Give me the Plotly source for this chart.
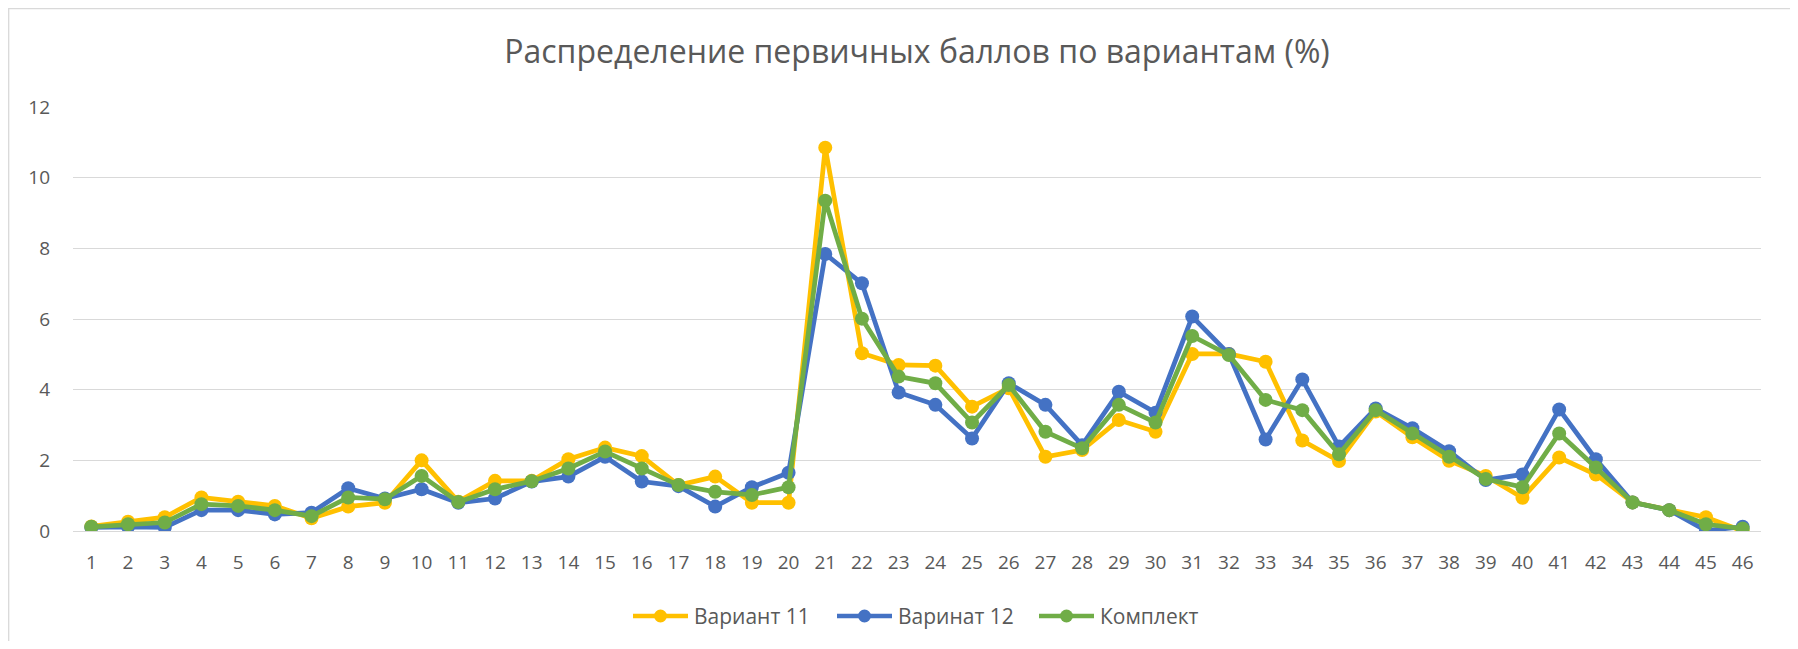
import plotly.graph_objects as go

categories = [str(i) for i in range(1, 47)]

variant_11 = [0.13, 0.26, 0.39, 0.95, 0.83, 0.71, 0.36, 0.69, 0.80, 2.00,
              0.83, 1.42, 1.42, 2.03, 2.36, 2.12, 1.30, 1.54, 0.80, 0.80,
              10.85, 5.03, 4.70, 4.68, 3.52, 4.04, 2.10, 2.29, 3.14, 2.81,
              5.01, 5.01, 4.79, 2.56, 1.98, 3.38, 2.65, 1.99, 1.56, 0.94,
              2.08, 1.60, 0.81, 0.59, 0.39, 0.00]

variant_12 = [0.10, 0.12, 0.10, 0.59, 0.59, 0.47, 0.52, 1.21, 0.92, 1.18,
              0.80, 0.92, 1.40, 1.54, 2.10, 1.40, 1.27, 0.69, 1.24, 1.65,
              7.84, 7.01, 3.92, 3.57, 2.62, 4.18, 3.57, 2.43, 3.94, 3.35,
              6.07, 5.01, 2.59, 4.29, 2.39, 3.47, 2.91, 2.26, 1.44, 1.60,
              3.44, 2.03, 0.81, 0.59, 0.01, 0.12]

komplekt = [0.12, 0.19, 0.24, 0.76, 0.71, 0.59, 0.42, 0.95, 0.90, 1.56,
            0.82, 1.18, 1.41, 1.77, 2.25, 1.77, 1.30, 1.11, 1.02, 1.24,
            9.35, 6.01, 4.37, 4.18, 3.07, 4.13, 2.81, 2.34, 3.57, 3.07,
            5.52, 4.98, 3.71, 3.42, 2.17, 3.42, 2.76, 2.10, 1.47, 1.24,
            2.76, 1.80, 0.81, 0.59, 0.19, 0.07]

series_names = ["Вариант 11", "Варинат 12", "Комплект"]
series_values = [variant_11, variant_12, komplekt]
series_colors = ["#FFC000", "#4472C4", "#70AD47"]

TEXT = "#595959"
GRID = "#D9D9D9"
FONT = "Open Sans"

# figure geometry (page body adds an 8px margin)
W, H = 1782, 633
ML, MR, MT, MB = 65, 29, 99, 110
PW, PH = W - ML - MR, H - MT - MB


def px_x(fx):
    return (fx - ML) / PW


def px_y(fy):
    return (H - MB - fy) / PH


fig = go.Figure()
for name, vals, color in zip(series_names, series_values, series_colors):
    fig.add_trace(go.Scatter(
        x=categories, y=vals, name=name, mode="lines+markers",
        line=dict(color=color, width=4.75),
        marker=dict(color=color, size=14, symbol="circle"),
        showlegend=False,
    ))

fig.update_layout(
    width=W, height=H,
    margin=dict(l=ML, r=MR, t=MT, b=MB),
    paper_bgcolor="white", plot_bgcolor="white",
    font=dict(family=FONT, color=TEXT, size=19),
    title=dict(text="Распределение первичных баллов по вариантам (%)",
               x=0.5, xanchor="center", xref="paper",
               y=1 - 44 / H, yanchor="middle", yref="container",
               font=dict(family=FONT, size=32, color=TEXT)),
    xaxis=dict(type="category", range=[-0.5, 45.5], showgrid=False,
               showline=True, linecolor=GRID, linewidth=1.3,
               ticks="", tickfont=dict(size=19, color=TEXT),
               ticklabelstandoff=14),
    yaxis=dict(range=[0, 12], dtick=2, showgrid=True, gridcolor=GRID,
               gridwidth=1.3, zeroline=True, zerolinecolor=GRID,
               zerolinewidth=1.3, showline=False, ticks="",
               tickfont=dict(size=19, color=TEXT), ticklabelstandoff=22),
    showlegend=False,
)

# chart-area border (left/top edges visible in the reference)
fig.add_shape(type="rect", xref="paper", yref="paper",
              x0=px_x(0.7), x1=px_x(W + 20),
              y0=px_y(H + 20), y1=px_y(0.7),
              line=dict(color=GRID, width=1.3), fillcolor="rgba(0,0,0,0)",
              layer="below")

# custom legend (line with marker + label), like the spreadsheet legend
legend_starts = [625, 829, 1031]
legend_y = 608
for name, color, x0 in zip(series_names, series_colors, legend_starts):
    fig.add_shape(type="line", xref="paper", yref="paper",
                  x0=px_x(x0), x1=px_x(x0 + 55),
                  y0=px_y(legend_y), y1=px_y(legend_y),
                  line=dict(color=color, width=4.5))
    r = 6.5
    cx = x0 + 27.5
    fig.add_shape(type="circle", xref="paper", yref="paper",
                  x0=px_x(cx - r), x1=px_x(cx + r),
                  y0=px_y(legend_y + r), y1=px_y(legend_y - r),
                  line=dict(color=color, width=0), fillcolor=color)
    fig.add_annotation(text=name, xref="paper", yref="paper",
                       x=px_x(x0 + 59), y=px_y(legend_y),
                       xanchor="left", yanchor="middle", showarrow=False,
                       font=dict(family=FONT, size=21, color=TEXT))

fig.write_html("out.html")
